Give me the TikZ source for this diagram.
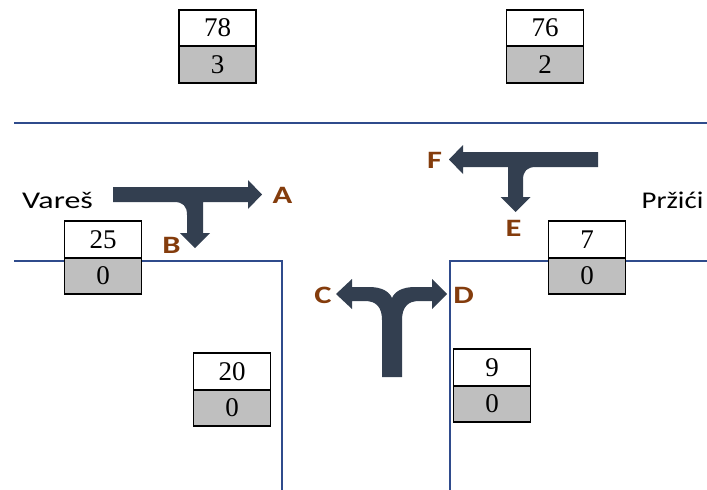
\documentclass[tikz,border=0pt]{standalone}
\usepackage{fontspec}
\setmainfont{Liberation Serif}
\newfontfamily\calfont{Carlito}
\definecolor{roadc}{HTML}{2F4B8C}
\definecolor{arrc}{HTML}{333F50}
\definecolor{letc}{HTML}{843C0C}
\definecolor{cellg}{HTML}{BFBFBF}
\newcommand{\wideL}[1]{\scalebox{1.3}[1]{#1}}
\newcommand{\wideP}[2]{\scalebox{#1}[1]{#2}}
\begin{document}
\begin{tikzpicture}[x=1pt,y=-1pt,
  cell/.style={draw=black,line width=1.6pt,minimum width=77pt,minimum height=36.5pt,inner sep=0pt,font=\fontsize{27}{27}\selectfont},
  tcell/.style={cell,fill=white},
  bcell/.style={cell,fill=cellg},
  road/.style={draw=roadc,line width=1.6pt},
  dirlet/.style={text=letc,font=\calfont\bfseries\fontsize{25}{25}\selectfont,inner sep=0pt,anchor=base},
  place/.style={text=black,font=\calfont\fontsize{24}{24}\selectfont,inner sep=0pt,anchor=base}]
\useasboundingbox (0,0) rectangle (707,490);
% roads
\coordinate (r1a) at (14,123); \coordinate (r1b) at (707,123);
\draw[road] (r1a) -- (r1b);
\coordinate (l1) at (14,261); \coordinate (l2) at (282,261); \coordinate (l3) at (282,490);
\draw[road] (l1) -- (l2) -- (l3);
\coordinate (q1) at (707,261); \coordinate (q2) at (450,261); \coordinate (q3) at (450,490);
\draw[road] (q1) -- (q2) -- (q3);
% count boxes
\node[tcell] (t78) at (217.5,28) {78};
\node[bcell] (b78) at (217.5,64.5) {3};
\node[tcell] (t76) at (545,28) {76};
\node[bcell] (b76) at (545,64.5) {2};
\node[tcell] (t25) at (103,239.5) {25};
\node[bcell] (b25) at (103,276) {0};
\node[tcell] (t7) at (587,239.5) {7};
\node[bcell] (b7) at (587,276) {0};
\node[tcell] (t20) at (232,371.5) {20};
\node[bcell] (b20) at (232,408) {0};
\node[tcell] (t9) at (492,367.5) {9};
\node[bcell] (b9) at (492,404) {0};
% place names
\node[place] (vares) at (57.5,208) {\wideP{1.33}{Vareš}};
\node[place] (przici) at (672.5,208) {\wideP{1.2}{Pržići}};
% arrows
\fill[arrc] (113,187) -- (248,187) -- (248,180) -- (262,194.5) -- (248,209) -- (248,202)
  -- (203,202) -- (203,233) -- (210,233) -- (195,248) -- (180,233) -- (187,233) -- (187,215)
  .. controls (187,206) and (183,202) .. (174,202) -- (113,202) -- cycle;
\fill[arrc] (598,152) -- (463,152) -- (463,145) -- (449,159.5) -- (463,174) -- (463,167)
  -- (508,167) -- (508,197) -- (500.5,197) -- (515.5,212) -- (530.5,197) -- (523,197) -- (523,180)
  .. controls (523,171) and (527,167) .. (536,167) -- (598,167) -- cycle;
\fill[arrc] (382,377) -- (382,320) .. controls (382,307) and (376,301) .. (365,301) -- (352,301)
  -- (352,309) -- (336,294) -- (352,279) -- (352,287) -- (369,287)
  .. controls (381,287) and (389,291) .. (392,298)
  .. controls (395,291) and (403,287) .. (415,287) -- (432,287) -- (432,279) -- (447,294)
  -- (432,309) -- (432,301) -- (419,301) .. controls (408,301) and (402,307) .. (402,320)
  -- (402,377) -- cycle;
% direction letters
\node[dirlet] (A) at (282.5,203) {\wideL{A}};
\node[dirlet] (B) at (171.5,253) {\wideL{B}};
\node[dirlet] (C) at (323,303) {\wideL{C}};
\node[dirlet] (D) at (463.5,303) {\wideL{D}};
\node[dirlet] (E) at (513.5,236) {\wideL{E}};
\node[dirlet] (F) at (434.5,168) {\wideL{F}};
\end{tikzpicture}
\end{document}
